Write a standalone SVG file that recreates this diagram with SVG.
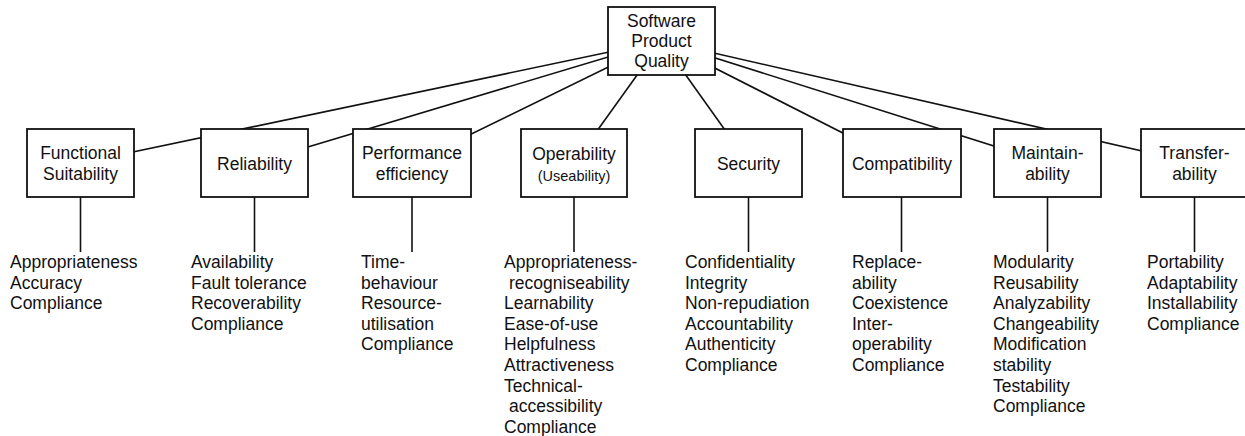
<svg xmlns="http://www.w3.org/2000/svg" width="1245" height="436" viewBox="0 0 1245 436">
<style>
.box{fill:#fff;stroke:#111;stroke-width:1.8}
.ln{stroke:#111;stroke-width:1.6;fill:none}
text{font-family:"Liberation Sans",Arial,sans-serif;font-size:17.5px;fill:#111}
.c{text-anchor:middle}
.s{font-size:14.5px}
</style>
<rect width="1245" height="436" fill="#fff"/>
<g id="connectors">
<line class="ln" x1="661.5" y1="41" x2="80.5" y2="163"/>
<line class="ln" x1="661.5" y1="41" x2="254.5" y2="163"/>
<line class="ln" x1="661.5" y1="41" x2="412" y2="163"/>
<line class="ln" x1="661.5" y1="41" x2="574" y2="163"/>
<line class="ln" x1="661.5" y1="41" x2="748.5" y2="163"/>
<line class="ln" x1="661.5" y1="41" x2="902" y2="163"/>
<line class="ln" x1="661.5" y1="41" x2="1047.5" y2="163"/>
<line class="ln" x1="661.5" y1="41" x2="1194.5" y2="163"/>
<line class="ln" x1="80.5" y1="197" x2="80.5" y2="252"/>
<line class="ln" x1="254.5" y1="197" x2="254.5" y2="252"/>
<line class="ln" x1="412" y1="197" x2="412" y2="252"/>
<line class="ln" x1="574" y1="197" x2="574" y2="252"/>
<line class="ln" x1="748.5" y1="197" x2="748.5" y2="252"/>
<line class="ln" x1="901.5" y1="197" x2="901.5" y2="252"/>
<line class="ln" x1="1047.5" y1="197" x2="1047.5" y2="252"/>
<line class="ln" x1="1194.5" y1="197" x2="1194.5" y2="252"/>
</g>
<g id="root">
<rect class="box" x="608" y="7" width="107" height="68"/>
<text class="c" x="661.5" y="27">Software</text>
<text class="c" x="661.5" y="47">Product</text>
<text class="c" x="661.5" y="67">Quality</text>
</g>
<g id="functional">
<rect class="box" x="27" y="129" width="107" height="68"/>
<text class="c" x="80.5" y="159">Functional</text>
<text class="c" x="80.5" y="180">Suitability</text>
<text x="10" y="268"><tspan x="10">Appropriateness</tspan><tspan x="10" dy="20.6">Accuracy</tspan><tspan x="10" dy="20.6">Compliance</tspan></text>
</g>
<g id="reliability">
<rect class="box" x="201" y="129" width="107" height="68"/>
<text class="c" x="254.5" y="170">Reliability</text>
<text x="191" y="268"><tspan x="191">Availability</tspan><tspan x="191" dy="20.6">Fault tolerance</tspan><tspan x="191" dy="20.6">Recoverability</tspan><tspan x="191" dy="20.6">Compliance</tspan></text>
</g>
<g id="performance">
<rect class="box" x="353" y="129" width="118" height="68"/>
<text class="c" x="412" y="159">Performance</text>
<text class="c" x="412" y="180">efficiency</text>
<text x="361" y="268"><tspan x="361">Time-</tspan><tspan x="361" dy="20.6">behaviour</tspan><tspan x="361" dy="20.6">Resource-</tspan><tspan x="361" dy="20.6">utilisation</tspan><tspan x="361" dy="20.6">Compliance</tspan></text>
</g>
<g id="operability">
<rect class="box" x="521" y="129" width="106" height="68"/>
<text class="c" x="574" y="160">Operability</text>
<text class="c s" x="574" y="181">(Useability)</text>
<text x="504" y="268"><tspan x="504">Appropriateness-</tspan><tspan x="509" dy="20.6">recogniseability</tspan><tspan x="504" dy="20.6">Learnability</tspan><tspan x="504" dy="20.6">Ease-of-use</tspan><tspan x="504" dy="20.6">Helpfulness</tspan><tspan x="504" dy="20.6">Attractiveness</tspan><tspan x="504" dy="20.6">Technical-</tspan><tspan x="509" dy="20.6">accessibility</tspan><tspan x="504" dy="20.6">Compliance</tspan></text>
</g>
<g id="security">
<rect class="box" x="695" y="129" width="107" height="68"/>
<text class="c" x="748.5" y="170">Security</text>
<text x="685" y="268"><tspan x="685">Confidentiality</tspan><tspan x="685" dy="20.6">Integrity</tspan><tspan x="685" dy="20.6">Non-repudiation</tspan><tspan x="685" dy="20.6">Accountability</tspan><tspan x="685" dy="20.6">Authenticity</tspan><tspan x="685" dy="20.6">Compliance</tspan></text>
</g>
<g id="compatibility">
<rect class="box" x="843" y="129" width="118" height="68"/>
<text class="c" x="902" y="170">Compatibility</text>
<text x="852" y="268"><tspan x="852">Replace-</tspan><tspan x="852" dy="20.6">ability</tspan><tspan x="852" dy="20.6">Coexistence</tspan><tspan x="852" dy="20.6">Inter-</tspan><tspan x="852" dy="20.6">operability</tspan><tspan x="852" dy="20.6">Compliance</tspan></text>
</g>
<g id="maintainability">
<rect class="box" x="994" y="129" width="107" height="68"/>
<text class="c" x="1047.5" y="159">Maintain-</text>
<text class="c" x="1047.5" y="180">ability</text>
<text x="993" y="268"><tspan x="993">Modularity</tspan><tspan x="993" dy="20.6">Reusability</tspan><tspan x="993" dy="20.6">Analyzability</tspan><tspan x="993" dy="20.6">Changeability</tspan><tspan x="993" dy="20.6">Modification</tspan><tspan x="993" dy="20.6">stability</tspan><tspan x="993" dy="20.6">Testability</tspan><tspan x="993" dy="20.6">Compliance</tspan></text>
</g>
<g id="transferability">
<rect class="box" x="1141" y="129" width="107" height="68"/>
<text class="c" x="1194.5" y="159">Transfer-</text>
<text class="c" x="1194.5" y="180">ability</text>
<text x="1147" y="268"><tspan x="1147">Portability</tspan><tspan x="1147" dy="20.6">Adaptability</tspan><tspan x="1147" dy="20.6">Installability</tspan><tspan x="1147" dy="20.6">Compliance</tspan></text>
</g>
</svg>
